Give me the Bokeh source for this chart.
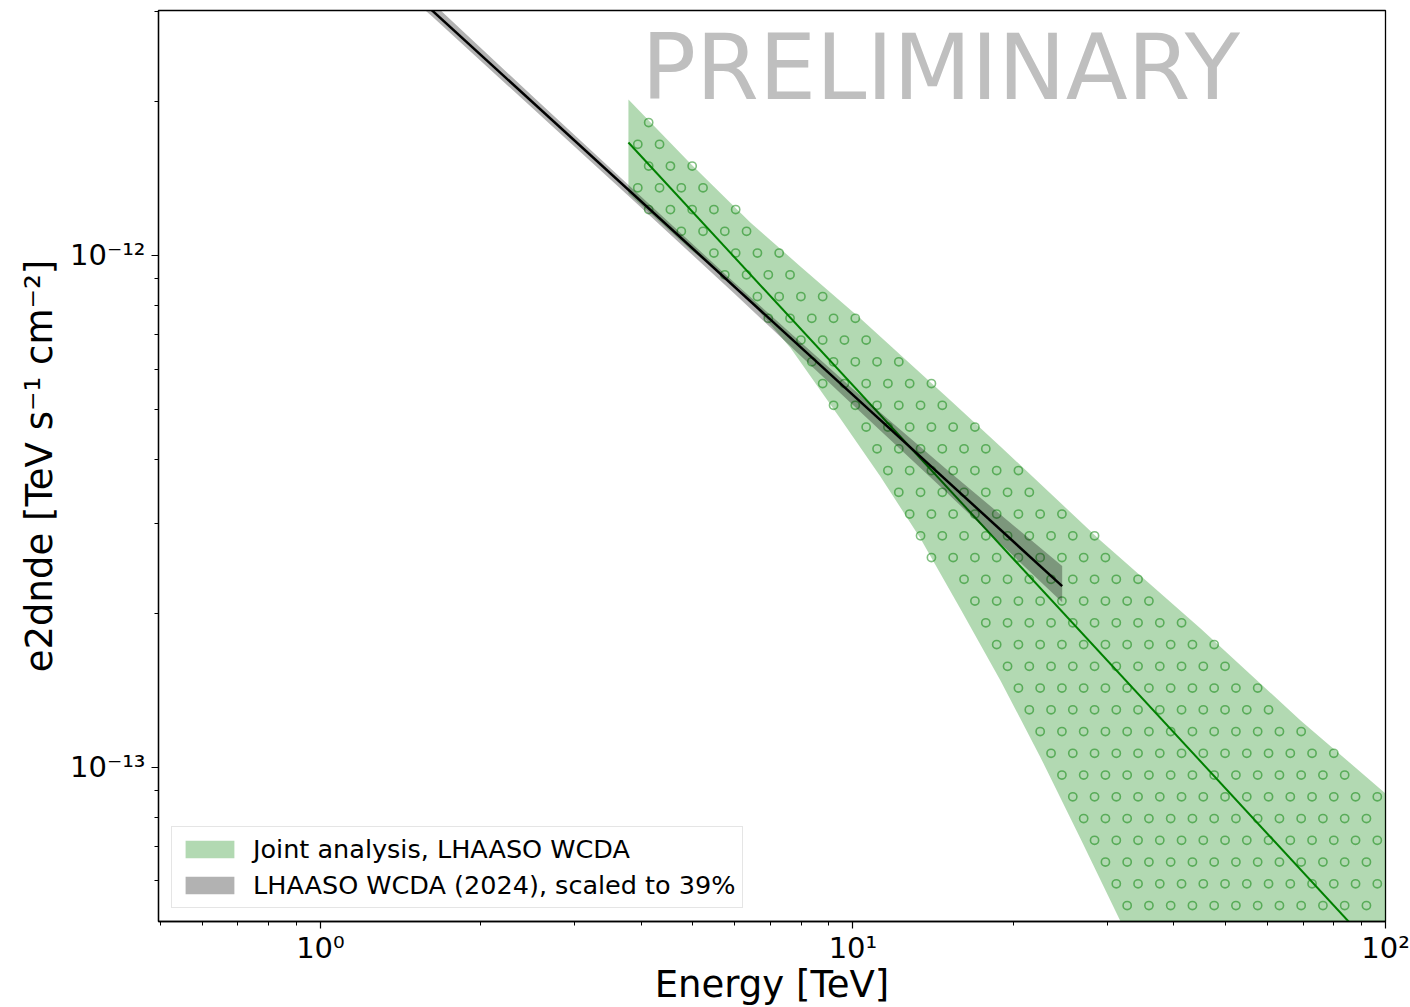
import numpy as np
from bokeh.plotting import figure
from bokeh.models import FixedTicker, Label, Legend, LegendItem, Range1d
from bokeh.embed import file_html
from bokeh.resources import INLINE

# ---- Joint analysis (LHAASO WCDA) : power-law best fit and its butterfly ----
joint_energy = [3.788, 100.0]                      # TeV
joint_flux = [1.662e-12, 4.178e-14]                # TeV s^-1 cm^-2

joint_upper_energy = [3.788, 4.952, 6.418, 7.968, 10.33, 15.25, 18.92, 29.16, 44.95, 69.26, 100.0]
joint_upper_flux = [2.017e-12, 1.512e-12, 1.160e-12, 9.52e-13, 7.53e-13, 5.21e-13,
                    4.236e-13, 2.776e-13, 1.868e-13, 1.235e-13, 8.897e-14]

joint_lower_energy = [3.788, 4.952, 6.147, 7.630, 9.474, 11.26, 13.39, 15.92, 18.92,
                      22.50, 26.74, 31.79, 44.95, 100.0]
joint_lower_flux = [1.321e-12, 1.027e-12, 8.583e-13, 6.600e-13, 4.800e-13, 3.700e-13,
                    2.800e-13, 2.040e-13, 1.479e-13, 1.046e-13, 7.264e-14, 5.003e-14,
                    2.393e-14, 4.35e-15]

# ---- LHAASO WCDA (2024) spectrum, scaled to 39% ----
wcda_energy = [1.0, 24.71]
wcda_flux = [4.765e-12, 2.26e-13]

wcda_band_energy = [1.0, 1.62, 2.5, 3.79, 6.0, 10.0, 15.0, 24.71]
wcda_band_upper = [5.028e-12, 3.123e-12, 2.049e-12, 1.373e-12, 8.836e-13, 5.486e-13, 3.817e-13, 2.473e-13]
wcda_band_lower = [4.575e-12, 2.932e-12, 1.941e-12, 1.307e-12, 8.409e-13, 5.104e-13, 3.442e-13, 2.102e-13]

# ---- axes ----
x_start, x_end = 0.4966, 100.0
y_start, y_end = 5.0e-14, 3.01e-12
x_major = [1, 10, 100]
x_major_labels = ["10⁰", "10¹", "10²"]
x_minor = [0.5, 0.6, 0.7, 0.8, 0.9, 2, 3, 4, 5, 6, 7, 8, 9, 20, 30, 40, 50, 60, 70, 80, 90]
y_major = [1e-13, 1e-12]
y_major_labels = ["10⁻¹³", "10⁻¹²"]
y_minor = [6e-14, 7e-14, 8e-14, 9e-14, 2e-13, 3e-13, 4e-13, 5e-13, 6e-13, 7e-13, 8e-13,
           9e-13, 2e-12, 3e-12]

FONT = "DejaVu Sans"
FRAME_L, FRAME_T, FRAME_W, FRAME_H = 158, 10, 1227, 911

p = figure(
    x_axis_type="log", y_axis_type="log",
    x_range=Range1d(x_start, x_end), y_range=Range1d(y_start, y_end),
    frame_width=FRAME_W, frame_height=FRAME_H,
    min_border_left=FRAME_L, min_border_right=25, min_border_top=FRAME_T, min_border_bottom=86,
    output_backend="svg", toolbar_location=None,
    background_fill_color="white", border_fill_color="white",
)
p.grid.visible = False
p.outline_line_color = "black"
p.outline_line_width = 1.3

# joint-analysis butterfly
band_x = joint_upper_energy + joint_lower_energy[::-1]
band_y = joint_upper_flux + joint_lower_flux[::-1]
joint_band = p.patch(band_x, band_y, fill_color="green", fill_alpha=0.3, line_color=None)


# staggered ring hatch inside the butterfly: a fixed screen-space lattice,
# mapped into data space and kept where it falls inside the band
def inside(px, py, poly_x, poly_y):
    res = np.zeros(px.shape, dtype=bool)
    n = len(poly_x)
    j = n - 1
    for i in range(n):
        xi, yi, xj, yj = poly_x[i], poly_y[i], poly_x[j], poly_y[j]
        cross = ((yi > py) != (yj > py)) & (px < (xj - xi) * (py - yi) / (yj - yi + 1e-300) + xi)
        res ^= cross
        j = i
    return res


pitch = 21.75
rows = 709.3 + pitch * np.arange(-32, 10)
hx, hy = [], []
for k, ry in enumerate(rows):
    x0 = 1072.3 if k % 2 == 0 else 1072.3 - pitch / 2
    cols = x0 + pitch * np.arange(-45, 16)
    cols = cols[(cols > FRAME_L) & (cols < FRAME_L + FRAME_W)]
    if FRAME_T < ry < FRAME_T + FRAME_H:
        hx.extend(cols)
        hy.extend([ry] * len(cols))
hx, hy = np.array(hx), np.array(hy)
lx0, lx1 = np.log10(x_start), np.log10(x_end)
ly0, ly1 = np.log10(y_start), np.log10(y_end)
h_logE = lx0 + (hx - FRAME_L) / FRAME_W * (lx1 - lx0)
h_logF = ly1 - (hy - FRAME_T) / FRAME_H * (ly1 - ly0)
keep = inside(h_logE, h_logF, np.log10(band_x), np.log10(band_y))
p.scatter(10 ** h_logE[keep], 10 ** h_logF[keep], marker="circle", size=8.2,
          fill_color=None, line_color="green", line_alpha=0.5, line_width=1.6)

p.line(joint_energy, joint_flux, line_color="green", line_width=2)

wcda_band = p.varea(
    x=wcda_band_energy, y1=wcda_band_lower, y2=wcda_band_upper,
    fill_color="black", fill_alpha=0.3,
)
p.line(wcda_energy, wcda_flux, line_color="black", line_width=2.5)

p.add_layout(Label(
    x=4.007, y=2.329e-12, text="PRELIMINARY",
    text_font=FONT, text_font_size="90.5px", text_color="#bfbfbf",
    text_baseline="alphabetic", text_align="left",
))

legend = Legend(
    items=[
        LegendItem(label="Joint analysis, LHAASO WCDA", renderers=[joint_band]),
        LegendItem(label="LHAASO WCDA (2024), scaled to 39%", renderers=[wcda_band]),
    ],
    location="bottom_left", margin=13, padding=7, spacing=6,
    glyph_width=61, glyph_height=22, label_height=28, label_standoff=13,
    label_text_font=FONT, label_text_font_size="25.5px", label_text_color="black",
    border_line_color="#cccccc", border_line_width=1.2,
    background_fill_color="white", background_fill_alpha=0.8,
)
p.add_layout(legend)

for ax, major, labels, minor in (
    (p.xaxis[0], x_major, x_major_labels, x_minor),
    (p.yaxis[0], y_major, y_major_labels, y_minor),
):
    ax.ticker = FixedTicker(ticks=major, minor_ticks=minor)
    ax.major_label_overrides = {t: s for t, s in zip(major, labels)}
    ax.axis_line_color = "black"
    ax.axis_line_width = 1.3
    ax.major_tick_line_color = "black"
    ax.minor_tick_line_color = "black"
    ax.major_tick_line_width = 1.2
    ax.minor_tick_line_width = 1.0
    ax.major_tick_in = 0
    ax.major_tick_out = 7
    ax.minor_tick_in = 0
    ax.minor_tick_out = 4
    ax.major_label_text_font = FONT
    ax.major_label_text_font_size = "29px"
    ax.major_label_text_color = "black"
    ax.axis_label_text_font = FONT
    ax.axis_label_text_font_size = "37px"
    ax.axis_label_text_font_style = "normal"
    ax.axis_label_text_color = "black"

p.xaxis.axis_label = "Energy [TeV]"
p.yaxis.axis_label = "e2dnde [TeV s⁻¹ cm⁻²]"
p.xaxis.major_label_standoff = 2
p.xaxis.axis_label_standoff = -5
p.yaxis.major_label_standoff = 6
p.yaxis.axis_label_standoff = 6

open("out.html", "w").write(file_html(p, INLINE))
